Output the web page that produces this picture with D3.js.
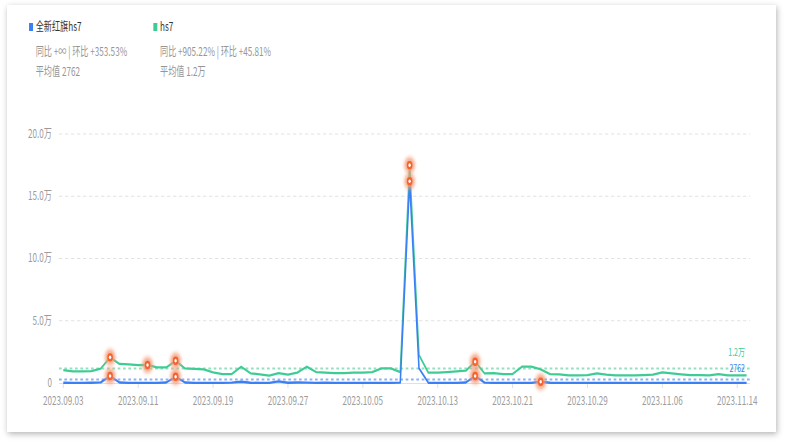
<!DOCTYPE html>
<html>
<head>
<meta charset="utf-8">
<script src="https://cdn.jsdelivr.net/npm/d3@7"></script>
<style>
  body { margin: 0; background: #fff; overflow: hidden; }
  #card { position: absolute; left: 7px; top: 5px; width: 769px; height: 427px; background: #fff;
          box-shadow: 1px 2px 6px rgba(0, 0, 0, 0.3); }
  #chart { position: absolute; left: 0; top: 0; }
</style>
</head>
<body>
<div id="card"></div>
<svg id="chart"></svg>
<script>
// chart data
var seriesNames = ['全新红旗hs7', 'hs7'];
var compareText = ['同比 +∞ | 环比 +353.53%', '同比 +905.22% | 环比 +45.81%'];
var avgText = ['平均值 2762', '平均值 1.2万'];
var avgLabels = ['2762', '1.2万'];
var startDate = '2023.09.03';
var endDate = '2023.11.15';
var tickLabels = ['2023.09.03', '2023.09.11', '2023.09.19', '2023.09.27', '2023.10.05',
  '2023.10.13', '2023.10.21', '2023.10.29', '2023.11.06', '2023.11.14'];
var yTicks = [0, 50000, 100000, 150000, 200000];
var blueValues = [
  200, 120, 120, 200, 500, 5600, 400, 120, 120, 120,
  150, 400, 5000, 400, 150, 120, 120, 150, 300, 1000,
  200, 150, 150, 1300, 200, 400, 250, 150, 200, 150,
  120, 120, 150, 150, 120, 150, 300, 162000, 11800, 200,
  150, 120, 120, 400, 5600, 300, 150, 120, 120, 150,
  150, 1000, 200, 120, 120, 150, 120, 120, 150, 120,
  120, 150, 120, 120, 150, 120, 120, 150, 120, 120,
  150, 120, 120, 150];
var greenValues = [
  10400, 9400, 9400, 9600, 11500, 20600, 15300, 14900, 14300, 14500,
  12500, 12500, 17900, 11700, 11400, 11000, 8600, 7200, 7200, 13100,
  7800, 7000, 5900, 8000, 6700, 8300, 13100, 8800, 8300, 8000,
  8000, 8300, 8300, 8800, 11800, 11800, 8800, 175000, 22500, 8300,
  8300, 8800, 9400, 9900, 17100, 7800, 8000, 7200, 7200, 13100,
  13100, 11000, 7200, 7000, 6200, 6200, 6400, 7800, 6700, 6200,
  6200, 6200, 6400, 6700, 8600, 7800, 7000, 6400, 6400, 6200,
  7200, 6200, 6200, 6200];
var blueMarked = [5, 12, 37, 44, 51];
var greenMarked = [5, 9, 12, 37, 44];

// layout: the picture is squeezed horizontally, so draw wide and squeeze
var K = 1.5;
var WIDTH = 785, HEIGHT = 442;
var VW = WIDTH * K;
var X_START = 63.3 * K, X_END = 746.6 * K;
var GRID_LEFT = 59 * K, GRID_RIGHT = 750 * K;
var Y_ZERO = 383, Y_TOP = 134;
var FONT_SIZE = 12.2;
var BLUE = '#3b7ff5', GREEN = '#3fcc94';
var BLUE_AVG = '#8db2f7', GREEN_AVG = '#92e0c0';
var MARK = '#f4622e';
var FONT = '"Noto Sans CJK SC", "Noto Sans", sans-serif';

var parse = d3.timeParse('%Y.%m.%d');
var dates = d3.timeDay.range(parse(startDate), d3.timeDay.offset(parse(endDate), 1));

var svg = d3.select('#chart')
  .attr('width', WIDTH)
  .attr('height', HEIGHT)
  .attr('viewBox', '0 0 ' + VW + ' ' + HEIGHT)
  .attr('preserveAspectRatio', 'none')
  .style('font-family', FONT);

var xScale = d3.scaleTime().domain([dates[0], dates[dates.length - 1]]).range([X_START, X_END]);
var yScale = d3.scaleLinear().domain([0, 200000]).range([Y_ZERO, Y_TOP]);

var defs = svg.append('defs');
defs.append('filter').attr('id', 'glow')
  .attr('x', '-100%').attr('y', '-100%').attr('width', '300%').attr('height', '300%')
  .append('feGaussianBlur').attr('stdDeviation', 2);

/** y grid and labels */
svg.append('g').selectAll('line').data(yTicks.slice(1)).enter().append('line')
  .attr('x1', GRID_LEFT).attr('x2', GRID_RIGHT)
  .attr('y1', function (d) { return yScale(d); })
  .attr('y2', function (d) { return yScale(d); })
  .attr('stroke', '#dcdcdc').attr('stroke-width', 1).attr('stroke-dasharray', '5,4');

svg.append('g').selectAll('text').data(yTicks).enter().append('text')
  .attr('x', 52 * K)
  .attr('y', function (d) { return yScale(d) + 4; })
  .attr('text-anchor', 'end')
  .attr('font-size', FONT_SIZE)
  .attr('fill', '#9c9c9c')
  .text(function (d) { return d === 0 ? '0' : (d / 10000).toFixed(1) + '万'; });

/** x axis */
svg.append('line')
  .attr('x1', GRID_LEFT).attr('x2', GRID_RIGHT)
  .attr('y1', Y_ZERO + 0.5).attr('y2', Y_ZERO + 0.5)
  .attr('stroke', '#d5dbe5');
var xTick = svg.append('g').selectAll('g').data(tickLabels).enter().append('g')
  .attr('transform', function (d) { return 'translate(' + xScale(parse(d)) + ',0)'; });
xTick.append('line')
  .attr('y1', Y_ZERO).attr('y2', Y_ZERO + 5)
  .attr('stroke', '#d5dbe5');
xTick.append('text')
  .attr('y', 405)
  .attr('text-anchor', 'middle')
  .attr('font-size', FONT_SIZE)
  .attr('fill', '#9c9c9c')
  .text(function (d) { return d; });

/** average lines */
var avgs = [d3.mean(blueValues), d3.mean(greenValues)];
var avgColors = [BLUE_AVG, GREEN_AVG];
svg.append('g').selectAll('line').data(avgs).enter().append('line')
  .attr('x1', GRID_LEFT).attr('x2', GRID_RIGHT)
  .attr('y1', function (d) { return yScale(d); })
  .attr('y2', function (d) { return yScale(d); })
  .attr('stroke', function (d, i) { return avgColors[i]; })
  .attr('stroke-width', 2)
  .attr('stroke-dasharray', '4,4');

/** series lines */
var line = d3.line()
  .x(function (d, i) { return xScale(dates[i]); })
  .y(function (d) { return yScale(d); });
svg.append('path').datum(greenValues)
  .attr('d', line).attr('fill', 'none')
  .attr('stroke', GREEN).attr('stroke-width', 2.3).attr('stroke-linejoin', 'round');
svg.append('path').datum(blueValues)
  .attr('d', line).attr('fill', 'none')
  .attr('stroke', BLUE).attr('stroke-width', 2.3).attr('stroke-linejoin', 'round');

/** average labels */
var labelColors = [BLUE, GREEN];
svg.append('g').selectAll('text').data(avgs).enter().append('text')
  .attr('x', 745 * K)
  .attr('y', function (d, i) { return i === 0 ? 372 : 356; })
  .attr('text-anchor', 'end')
  .attr('font-size', 10.5)
  .attr('fill', function (d, i) { return labelColors[i]; })
  .text(function (d, i) { return avgLabels[i]; });

/** abnormal point markers */
function drawMarks(values, idx) {
  var g = svg.append('g').selectAll('g').data(idx).enter().append('g')
    .attr('transform', function (i) { return 'translate(' + xScale(dates[i]) + ',' + yScale(values[i]) + ')'; });
  g.append('circle').attr('r', 8).attr('fill', '#f59b78').attr('opacity', 0.85).attr('filter', 'url(#glow)');
  g.append('circle').attr('r', 4.2).attr('fill', MARK);
  g.append('circle').attr('r', 1.8).attr('fill', '#fff');
}
drawMarks(greenValues, greenMarked);
drawMarks(blueValues, blueMarked);

/** legend */
var legendX = [35.7 * K, 160 * K];
var legendColors = [BLUE, GREEN];
var legend = svg.append('g').selectAll('g').data(seriesNames).enter().append('g')
  .attr('transform', function (d, i) { return 'translate(' + legendX[i] + ',0)'; });
legend.append('rect')
  .attr('x', -10).attr('y', 23).attr('width', 6).attr('height', 8)
  .attr('fill', function (d, i) { return legendColors[i]; });
legend.append('text')
  .attr('y', 31).attr('font-size', FONT_SIZE).attr('fill', '#333')
  .text(function (d) { return d; });
legend.append('text')
  .attr('y', 56).attr('font-size', FONT_SIZE).attr('fill', '#969696')
  .text(function (d, i) { return compareText[i]; });
legend.append('text')
  .attr('y', 76).attr('font-size', FONT_SIZE).attr('fill', '#969696')
  .text(function (d, i) { return avgText[i]; });
</script>
</body>
</html>
